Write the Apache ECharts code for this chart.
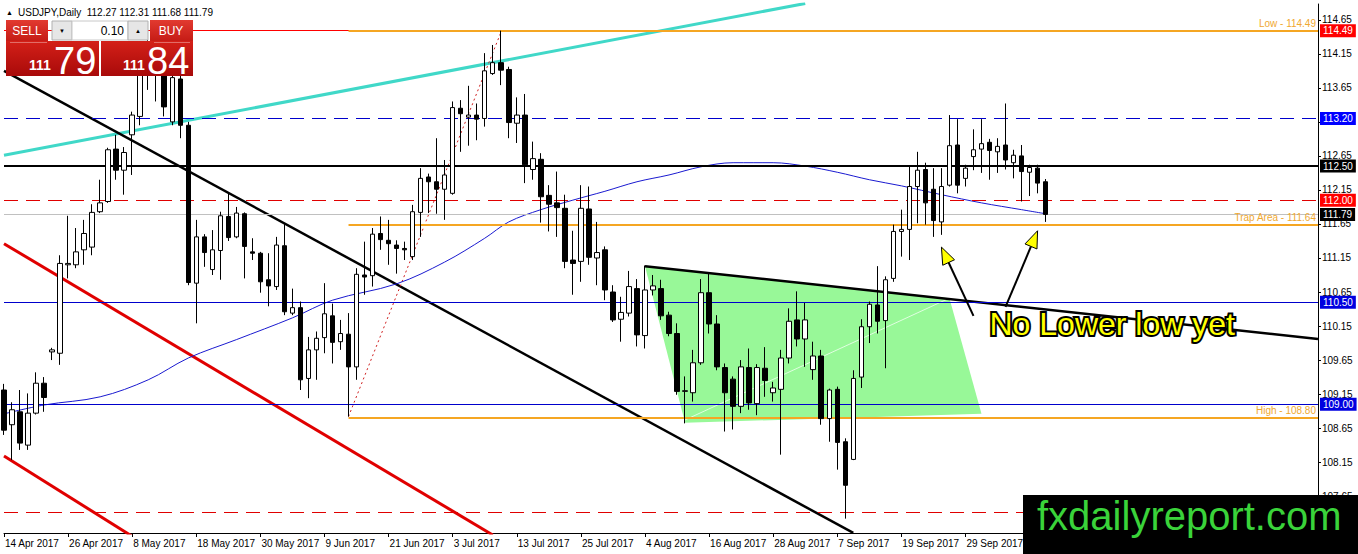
<!DOCTYPE html>
<html><head><meta charset="utf-8">
<script src="https://cdn.jsdelivr.net/npm/echarts@6/dist/echarts.min.js"></script>
<style>html,body{margin:0;padding:0;background:#fff}#c{width:1358px;height:554px}</style>
</head><body><div id="c"></div>
<script>
// ---------- DATA ----------
const startDate = '2017-04-14';
const totalSlots = 165; // 131 trading days + empty chart shift on the right
const MONTHS = ['Jan','Feb','Mar','Apr','May','Jun','Jul','Aug','Sep','Oct','Nov','Dec'];
function tradingDays(start, n){
  const out=[]; const d=new Date(start+'T00:00:00Z');
  while(out.length<n){ const w=d.getUTCDay(); if(w!==0&&w!==6) out.push(d.getUTCDate()+' '+MONTHS[d.getUTCMonth()]+' '+d.getUTCFullYear()); d.setUTCDate(d.getUTCDate()+1); }
  return out;
}
const dates = tradingDays(startDate, totalSlots);

// [open, close, low, high]
const candles = [
[109.21,108.62,108.55,109.30],[108.70,108.92,108.18,109.03],[108.89,108.43,108.33,109.21],[108.40,108.87,108.33,109.16],
[108.87,109.31,108.85,109.47],[109.31,109.10,108.89,109.40],[109.77,109.80,109.65,109.83],[109.75,111.07,109.58,111.19],
[111.05,111.07,110.85,111.77],[111.05,111.24,111.00,111.59],[111.27,111.51,111.05,111.71],[111.31,111.82,111.19,111.94],
[111.83,111.96,111.81,112.30],[111.98,112.74,111.96,112.77],[112.75,112.44,112.30,112.96],[112.44,112.70,112.08,112.78],
[112.96,113.25,112.37,113.30],[113.23,113.98,113.10,114.14],[113.95,114.05,113.62,114.37],[114.05,113.90,113.45,114.30],
[113.92,113.37,113.23,114.00],[113.15,113.80,113.10,113.95],[113.78,113.10,112.91,113.90],[113.10,110.79,110.75,113.15],
[110.78,111.46,110.19,111.71],[111.46,111.23,111.02,111.50],[110.98,111.27,110.90,111.56],[111.26,111.77,110.83,111.83],
[111.76,111.45,111.40,112.10],[111.46,111.81,111.44,111.90],[111.80,111.32,110.85,111.82],[111.24,111.22,111.12,111.44],
[111.22,110.80,110.64,111.24],[110.83,110.74,110.44,111.22],[110.73,111.34,110.68,111.46],[111.33,110.36,110.31,111.66],
[110.34,110.42,110.31,110.70],[110.42,109.36,109.21,110.51],[109.38,109.80,109.09,109.99],[109.80,109.97,109.36,110.07],
[109.98,110.33,109.75,110.78],[110.30,109.91,109.60,110.48],[109.92,110.04,109.80,110.24],[110.03,109.55,108.82,110.34],
[109.55,110.91,109.36,111.00],[110.90,110.87,110.61,111.39],[110.89,111.50,110.73,111.59],[111.51,111.42,111.27,111.76],
[111.41,111.36,111.05,111.71],[111.34,111.29,110.92,111.41],[111.29,111.27,111.12,111.39],[111.17,111.83,111.12,111.93],
[111.82,112.32,111.46,112.47],[112.34,112.27,111.81,112.39],[112.27,112.16,111.80,112.91],[112.16,112.37,111.71,112.59],
[112.10,113.36,112.08,113.45],[113.35,113.27,112.71,113.47],[113.22,113.25,112.80,113.68],[113.25,113.19,112.88,113.42],
[113.20,113.90,113.08,114.16],[113.86,114.02,113.84,114.28],[114.02,113.91,113.69,114.49],[113.92,113.14,112.91,113.96],
[113.13,113.25,112.84,113.51],[113.25,112.52,112.25,113.56],[112.45,112.61,112.30,112.86],[112.60,112.05,111.67,112.69],
[112.07,111.94,111.54,112.22],[111.96,111.89,111.46,112.42],[111.88,111.10,111.00,112.08],[111.12,111.07,110.61,111.55],
[111.10,111.88,110.80,112.22],[111.87,111.16,111.05,112.20],[111.15,111.23,110.75,111.68],[111.27,110.68,110.53,111.32],
[110.65,110.24,110.21,110.75],[110.25,110.35,109.92,110.58],[110.34,110.73,110.29,110.96],[110.70,110.02,109.85,110.84],
[110.01,110.68,109.82,111.04],[110.68,110.74,110.60,110.90],[110.70,110.30,110.24,110.83],[110.31,110.04,110.00,110.36],
[110.04,109.19,109.14,110.19],[109.19,109.20,108.72,109.41],[109.17,109.61,109.04,109.80],[109.61,110.64,109.58,110.84],
[110.64,110.18,110.04,110.93],[110.18,109.55,109.50,110.31],[109.54,109.17,108.60,109.60],[109.37,108.97,108.63,109.41],
[108.97,109.55,108.87,109.65],[109.54,109.02,108.92,109.82],[109.01,109.54,108.84,109.59],[109.53,109.35,109.11,109.84],
[109.17,109.24,109.04,109.33],[109.22,109.68,108.26,109.80],[109.68,110.22,109.60,110.41],[110.24,109.96,109.85,110.66],
[109.96,110.24,109.55,110.49],[109.51,109.71,109.36,109.92],[109.71,108.79,108.70,109.80],[108.79,109.21,108.45,109.23],
[109.22,108.44,108.04,109.26],[108.45,107.81,107.32,108.50],[108.19,109.38,108.18,109.50],[109.40,110.14,109.24,110.25],
[110.14,110.47,109.90,110.51],[110.46,110.22,110.04,111.03],[110.23,110.83,109.53,110.88],[110.85,111.54,110.80,111.64],
[111.54,111.57,111.17,111.86],[111.57,112.20,111.12,112.49],[112.20,112.44,111.66,112.71],[112.45,111.96,111.64,112.55],
[112.16,111.70,111.46,112.47],[111.68,112.20,111.49,112.47],[112.22,112.80,112.20,113.25],[112.81,112.22,112.10,113.19],
[112.32,112.47,112.20,112.52],[112.64,112.74,112.44,113.04],[112.75,112.83,112.40,113.19],[112.85,112.73,112.30,112.90],
[112.71,112.79,112.40,112.91],[112.81,112.59,112.45,113.42],[112.55,112.66,112.32,112.74],[112.65,112.42,111.98,112.81],
[112.41,112.48,112.06,112.52],[112.47,112.25,112.10,112.52],[112.27,111.79,111.68,112.31]
];

// moving average, read at knot bars
const maBars   = [0, 5, 12, 18, 23, 29, 36, 41, 49, 55, 60, 63, 67, 71, 75, 79, 83, 87, 91, 96, 100, 104, 108, 112, 117, 122, 127, 130];
const maValues = [108.86,108.99,109.11,109.36,109.68,109.95,110.27,110.53,110.77,111.09,111.44,111.68,111.86,112.00,112.13,112.27,112.37,112.49,112.55,112.55,112.50,112.41,112.30,112.21,112.08,111.96,111.86,111.80];

const yTicks = [107.65,108.15,108.65,109.15,109.65,110.15,110.65,111.15,111.65,112.15,112.65,113.15,113.65,114.15,114.65];

// horizontal levels: [value, colour, type, width, axis box colour]
const fullLevels = [
  [114.49,'#ff0000','solid',1,'#ff0000'],
  [113.20,'#0000cc','dashed',1,'#0000ff'],
  [112.50,'#000000','solid',2,'#000000'],
  [112.00,'#e00000','dashed',1,'#ff0000'],
  [111.79,'#c0c0c0','solid',1,'#000000'],
  [110.50,'#0000cc','solid',1,'#0000e0'],
  [109.00,'#0000cc','solid',1,'#0000e0'],
  [107.41,'#e00000','dashed',1,null]
];
const orangeLevels = [[43,114.49,'Low - 114.49'],[43,111.64,'Trap Area - 111.64'],[43,108.80,'High - 108.80']];

// trend lines [[bar,price],[bar,price]]
const cyanLine   = [[0,112.66],[100,114.89]];
const blackDiag  = [[0,113.90],[106,107.11]];
const redA       = [[0,111.36],[61,107.08]];
const redB       = [[0,108.24],[16,107.06]];
const redDotted  = [[43,108.82],[62,114.46]];
const triTop     = [[80,111.03],[164,109.96]];
const greenPoly  = [[80,111.03],[85,108.73],[122,108.86],[118,110.56]];
const greenSeam  = [[85,108.77],[118,110.56]];
const arrows     = [[121,110.30,117,111.31],[125,110.43,129,111.55]];
const noteText   = [[123,110.18]];

// ---------- CHART ----------
const AXF = '"Liberation Sans",Arial,sans-serif';
const chart = echarts.init(document.getElementById('c'), null, {renderer:'svg'});

function trend(data, color, width, type, z){
  return {type:'line', data, symbol:'none', silent:true, z: z||3, animation:false,
    lineStyle:{color, width, type: type||'solid'}, clip:true};
}

const levelMark = [];
fullLevels.forEach(l=>{
  levelMark.push({yAxis:l[0], lineStyle:{color:l[1], type:l[2]==='dashed'?[14,8]:'solid', width:l[3]},
    label: l[4] ? {show:true, position:'end', distance:2, formatter:l[0].toFixed(2), backgroundColor:l[4], color:'#fff',
      padding:[2,3,1,3], fontSize:10, fontFamily:AXF} : {show:false}});
});
orangeLevels.forEach(o=>{
  levelMark.push([{coord:[dates[o[0]], o[1]], lineStyle:{color:'#f5a623', width:2, type:'solid'},
      label:{show:true, position:'insideEndTop', distance:2, formatter:o[2], color:'#f0a830', fontSize:10, fontFamily:AXF}},
    {coord:[dates[totalSlots-1], o[1]]}]);
});

const option = {
  animation:false,
  backgroundColor:'#ffffff',
  grid:{left:4, right:40, top:4, bottom:21, containLabel:false, outerBoundsMode:'none'},
  xAxis:{type:'category', data:dates, boundaryGap:false,
    axisLine:{show:true, lineStyle:{color:'#000', width:1}},
    axisTick:{show:true, interval:7, length:4, lineStyle:{color:'#000'}},
    axisLabel:{interval:7, align:'left', margin:5, color:'#000', fontSize:10, fontFamily:AXF, padding:[0,0,0,1]},
    splitLine:{show:false}},
  yAxis:{type:'value', position:'right', min:107.109, max:114.882, scale:true,
    axisLine:{show:true, lineStyle:{color:'#000', width:1}},
    axisTick:{show:true, length:3, customValues:yTicks, lineStyle:{color:'#000'}},
    axisLabel:{show:true, customValues:yTicks, margin:4, color:'#000', fontSize:10, fontFamily:AXF,
      formatter:v=>Number(v).toFixed(2)},
    splitLine:{show:false}},
  series:[
    {type:'custom', silent:true, z:1, data:[[0,110]], renderItem:(p,api)=>{
      const pts = greenPoly.map(q=>api.coord(q));
      const s = greenSeam.map(q=>api.coord(q));
      return {type:'group', children:[
        {type:'polygon', shape:{points:pts}, style:{fill:'#98f898'}},
        {type:'line', shape:{x1:s[0][0],y1:s[0][1],x2:s[1][0],y2:s[1][1]}, style:{stroke:'rgba(255,255,255,0.7)', lineWidth:1}}
      ]};
    }},
    {type:'line', data:[], silent:true, z:2, markLine:{silent:true, symbol:['none','none'], animation:false, data:levelMark}},
    trend(redA,'#e00000',3),
    trend(redB,'#e00000',3),
    trend(cyanLine,'#40d8c8',3),
    trend(blackDiag,'#000000',2.5),
    trend(redDotted,'#d02020',1,[2,3]),
    trend(triTop,'#000000',2.5),
    {type:'line', data:maBars.map((b,i)=>[b,maValues[i]]), smooth:0.35, symbol:'none', silent:true, z:3,
      lineStyle:{color:'#1a1ad0', width:1}},
    {type:'candlestick', data:candles, barWidth:5, z:5, clip:true,
      itemStyle:{color:'#ffffff', color0:'#000000', borderColor:'#000000', borderColor0:'#000000', borderWidth:1}},
    {type:'custom', silent:true, z:6, data:arrows, renderItem:(p,api)=>{
      const a = api.coord([api.value(0), api.value(1)]);
      const b = api.coord([api.value(2), api.value(3)]);
      const dx=b[0]-a[0], dy=b[1]-a[1], L=Math.hypot(dx,dy), ux=dx/L, uy=dy/L;
      const hl=17, hw=6.5;
      const base=[b[0]-ux*hl, b[1]-uy*hl];
      const p1=[base[0]-uy*hw, base[1]+ux*hw], p2=[base[0]+uy*hw, base[1]-ux*hw];
      return {type:'group', children:[
        {type:'line', shape:{x1:a[0],y1:a[1],x2:base[0],y2:base[1]}, style:{stroke:'#000', lineWidth:2}},
        {type:'polygon', shape:{points:[b,p1,p2]}, style:{fill:'#ffff00', stroke:'#000', lineWidth:1}}
      ]};
    }},
    {type:'custom', silent:true, z:7, data:noteText, renderItem:(p,api)=>{
      const c = api.coord([api.value(0), api.value(1)]);
      return {type:'text', x:c[0], y:c[1], style:{text:'No Lower low yet', fill:'#ffff00', stroke:'#000', lineWidth:4,
        fontSize:32, fontFamily:'"Liberation Sans",Arial,sans-serif', align:'left', verticalAlign:'middle'}};
    }}
  ],
  graphic:[
    {type:'text', x:6, y:12, z:50, style:{text:'▲', fontSize:7, fill:'#000', verticalAlign:'middle'}},
    {type:'text', x:18, y:12, z:50, style:{text:'USDJPY,Daily  112.27 112.31 111.68 111.79', fontSize:10, fontFamily:AXF, fill:'#000', verticalAlign:'middle'}},
    {type:'rect', z:50, shape:{x:6,y:20,width:42,height:22}, style:{fill:{type:'linear',x:0,y:0,x2:0,y2:1,colorStops:[{offset:0,color:'#e23a30'},{offset:1,color:'#c41a14'}]}}},
    {type:'text', z:51, x:27, y:31, style:{text:'SELL', fontSize:12, fontFamily:AXF, fill:'#fff', align:'center', verticalAlign:'middle'}},
    {type:'rect', z:50, shape:{x:52,y:21,width:20,height:19}, style:{fill:'#e6e6e6', stroke:'#b0b0b0', lineWidth:1}},
    {type:'text', z:51, x:62, y:30.5, style:{text:'▼', fontSize:6, fill:'#000', align:'center', verticalAlign:'middle'}},
    {type:'rect', z:50, shape:{x:72,y:21,width:56,height:19}, style:{fill:'#ffffff', stroke:'#c8c8c8', lineWidth:1}},
    {type:'text', z:51, x:124, y:30.5, style:{text:'0.10', fontSize:12, fontFamily:AXF, fill:'#000', align:'right', verticalAlign:'middle'}},
    {type:'rect', z:50, shape:{x:128,y:21,width:20,height:19}, style:{fill:'#e6e6e6', stroke:'#b0b0b0', lineWidth:1}},
    {type:'text', z:51, x:138, y:30.5, style:{text:'▲', fontSize:6, fill:'#000', align:'center', verticalAlign:'middle'}},
    {type:'rect', z:50, shape:{x:150,y:20,width:43,height:22}, style:{fill:{type:'linear',x:0,y:0,x2:0,y2:1,colorStops:[{offset:0,color:'#e23a30'},{offset:1,color:'#c41a14'}]}}},
    {type:'text', z:51, x:171, y:31, style:{text:'BUY', fontSize:12, fontFamily:AXF, fill:'#fff', align:'center', verticalAlign:'middle'}},
    {type:'rect', z:50, shape:{x:6,y:41,width:93,height:35}, style:{fill:{type:'linear',x:0,y:0,x2:0,y2:1,colorStops:[{offset:0,color:'#d42018'},{offset:1,color:'#a80a0a'}]}}},
    {type:'rect', z:50, shape:{x:101,y:41,width:92,height:35}, style:{fill:{type:'linear',x:0,y:0,x2:0,y2:1,colorStops:[{offset:0,color:'#d42018'},{offset:1,color:'#a80a0a'}]}}},
    {type:'line', z:51, shape:{x1:10,y1:42.5,x2:47,y2:42.5}, style:{stroke:'rgba(255,255,255,0.35)', lineWidth:1}},
    {type:'line', z:51, shape:{x1:154,y1:42.5,x2:190,y2:42.5}, style:{stroke:'rgba(255,255,255,0.35)', lineWidth:1}},
    {type:'text', z:51, x:29, y:72, style:{text:'111', fontSize:14, fontWeight:'bold', fontFamily:AXF, fill:'#fff', verticalAlign:'bottom'}},
    {type:'text', z:51, x:54, y:80, style:{text:'79', fontSize:38, fontFamily:AXF, fill:'#fff', verticalAlign:'bottom'}},
    {type:'text', z:51, x:123, y:72, style:{text:'111', fontSize:14, fontWeight:'bold', fontFamily:AXF, fill:'#fff', verticalAlign:'bottom'}},
    {type:'text', z:51, x:147, y:80, style:{text:'84', fontSize:38, fontFamily:AXF, fill:'#fff', verticalAlign:'bottom'}},
    {type:'rect', z:60, shape:{x:1023,y:495,width:335,height:59}, style:{fill:'#000'}},
    {type:'text', z:61, x:1037, y:516, style:{text:'fxdailyreport.com', fontSize:40, fontFamily:'"Liberation Sans",Arial,sans-serif', fill:'#3ad33a', verticalAlign:'middle'}}
  ]
};
chart.setOption(option);
</script></body></html>
